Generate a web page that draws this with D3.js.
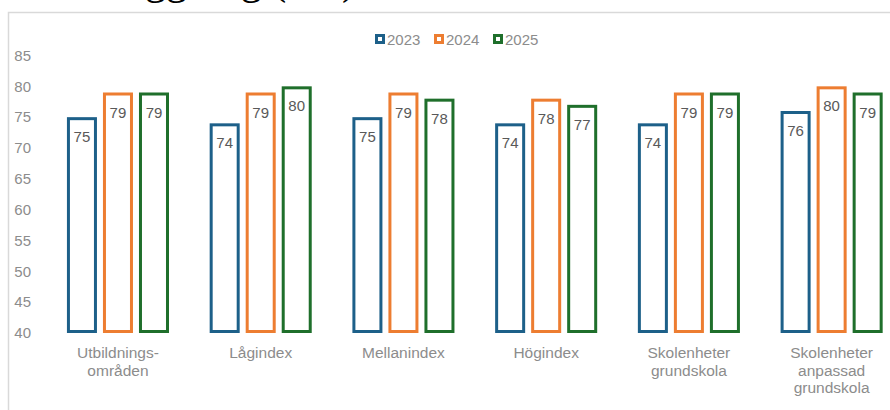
<!DOCTYPE html>
<html>
<head>
<meta charset="utf-8">
<script src="https://cdn.jsdelivr.net/npm/d3@7"></script>
<style>
  body { margin: 0; background: #fff; overflow: hidden; }
  svg { display: block; }
</style>
</head>
<body>
<div id="chart"></div>
<script>
  // Data
  const categories = [
    ['Utbildnings-', 'områden'],
    ['Lågindex'],
    ['Mellanindex'],
    ['Högindex'],
    ['Skolenheter', 'grundskola'],
    ['Skolenheter', 'anpassad', 'grundskola']
  ];
  const years = ['2023', '2024', '2025'];
  const values2023 = [75, 74, 75, 74, 74, 76];
  const values2024 = [79, 79, 79, 78, 79, 80];
  const values2025 = [79, 80, 78, 77, 79, 79];
  const yTicks = [40, 45, 50, 55, 60, 65, 70, 75, 80, 85];

  const series = [values2023, values2024, values2025];
  const colors = ['#1d6089', '#ed7d31', '#1f6f2b'];

  const width = 890;
  const height = 410;

  const svg = d3.select('#chart')
    .append('svg')
    .attr('width', width)
    .attr('height', height);

  // Cropped title above the chart frame (only its lower edge shows)
  svg.append('text')
    .attr('x', 40)
    .attr('y', -6)
    .style('font-family', '"Liberation Serif", "Times New Roman", serif')
    .style('font-size', '42px')
    .style('fill', '#000')
    .text('Planläggning (VT)');

  // Chart frame
  svg.append('rect')
    .attr('x', 8.5)
    .attr('y', 12.5)
    .attr('width', 900)
    .attr('height', 420)
    .attr('fill', 'none')
    .attr('stroke', '#d9d9d9')
    .attr('stroke-width', 1.5);

  const keys = categories.map(c => c.join(' '));

  const x0 = d3.scaleBand()
    .domain(keys)
    .range([46.6, 903])
    .paddingInner(0.285)
    .paddingOuter(0.1425);

  const x1 = d3.scaleBand()
    .domain(years)
    .range([0, x0.bandwidth()])
    .paddingInner(0.1667)
    .paddingOuter(0);

  const y = d3.scaleLinear()
    .domain([40, 85])
    .range([333, 55.5]);

  // Y axis
  const yAxis = svg.append('g')
    .attr('transform', 'translate(31,0)')
    .call(d3.axisLeft(y).tickValues(yTicks).tickSize(0).tickPadding(0));
  yAxis.select('.domain').remove();
  yAxis.selectAll('text')
    .style('font-family', '"Liberation Sans", Arial, sans-serif')
    .style('font-size', '15px')
    .style('fill', '#8c8c8c');

  // Bars
  const groups = svg.selectAll('.group')
    .data(keys)
    .enter()
    .append('g')
    .attr('class', 'group')
    .attr('transform', d => `translate(${x0(d)},0)`);

  groups.each(function(key, ci) {
    const g = d3.select(this);
    years.forEach((yr, si) => {
      const v = series[si][ci];
      g.append('rect')
        .attr('x', x1(yr) + 1.5)
        .attr('y', y(v) + 1.5)
        .attr('width', x1.bandwidth() - 3)
        .attr('height', y(40) - y(v) - 3)
        .attr('fill', '#fff')
        .attr('stroke', colors[si])
        .attr('stroke-width', 3);

      g.append('text')
        .attr('x', x1(yr) + x1.bandwidth() / 2)
        .attr('y', y(v) + 25)
        .attr('text-anchor', 'middle')
        .style('font-family', '"Liberation Sans", Arial, sans-serif')
        .style('font-size', '15px')
        .style('fill', '#595959')
        .text(v);
    });
  });

  // Category labels
  const xLabels = svg.selectAll('.xlabel')
    .data(categories)
    .enter()
    .append('text')
    .attr('class', 'xlabel')
    .attr('text-anchor', 'middle')
    .attr('x', (d, i) => x0(keys[i]) + x0.bandwidth() / 2)
    .attr('y', 358)
    .style('font-family', '"Liberation Sans", Arial, sans-serif')
    .style('font-size', '15.5px')
    .style('fill', '#8c8c8c');

  xLabels.selectAll('tspan')
    .data(d => d)
    .enter()
    .append('tspan')
    .attr('x', function() { return d3.select(this.parentNode).attr('x'); })
    .attr('dy', (d, i) => i === 0 ? 0 : 17.5)
    .text(d => d);

  // Legend
  const legend = svg.append('g')
    .attr('transform', 'translate(375,34)');

  const legendX = [0, 59, 118];
  const legendItems = legend.selectAll('.legend-item')
    .data(years)
    .enter()
    .append('g')
    .attr('class', 'legend-item')
    .attr('transform', (d, i) => `translate(${legendX[i]},0)`);

  legendItems.append('rect')
    .attr('x', 1.5)
    .attr('y', 1.5)
    .attr('width', 7)
    .attr('height', 7)
    .attr('fill', '#fff')
    .attr('stroke', (d, i) => colors[i])
    .attr('stroke-width', 3);

  legendItems.append('text')
    .attr('x', 12)
    .attr('y', 10.5)
    .style('font-family', '"Liberation Sans", Arial, sans-serif')
    .style('font-size', '15px')
    .style('fill', '#8c8c8c')
    .text(d => d);
</script>
</body>
</html>
